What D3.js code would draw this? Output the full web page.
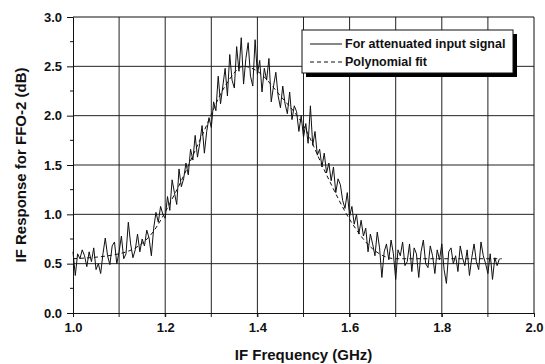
<!DOCTYPE html>
<html>
<head>
<meta charset="utf-8">
<script src="https://cdn.jsdelivr.net/npm/d3@7"></script>
<style>
  body { margin: 0; background: #fff; }
  svg { display: block; font-family: Arial, 'Liberation Sans', sans-serif; }
  .tickLabel { font-size: 13px; font-weight: bold; fill: #111; }
  .axisTitle { font-size: 15px; font-weight: bold; fill: #111; }
  .legendText { font-size: 12.5px; font-weight: bold; fill: #111; }
</style>
</head>
<body>
<svg width="545" height="364"></svg>
<script>
// measured sweep: 1.000 GHz upward, 5 MHz per sample
var freqStart = 1.0;
var freqStep = 0.005;

var response = [
  0.62, 0.38, 0.60, 0.55, 0.64, 0.58, 0.47, 0.62, 0.52, 0.66,
  0.44, 0.50, 0.40, 0.60, 0.76, 0.58, 0.49, 0.68, 0.72, 0.50,
  0.62, 0.78, 0.55, 0.60, 0.92, 0.70, 0.56, 0.64, 0.80, 0.62,
  0.75, 0.68, 0.84, 0.76, 0.58, 0.86, 1.02, 0.92, 1.08, 1.00,
  0.96, 1.18, 1.04, 1.35, 1.22, 1.10, 1.46, 1.28, 1.36, 1.52,
  1.40, 1.66, 1.55, 1.80, 1.58, 1.72, 1.90, 1.62, 1.84, 1.98,
  1.88, 2.14, 2.05, 2.40, 2.12, 2.30, 2.48, 2.20, 2.62, 2.36,
  2.28, 2.70, 2.45, 2.79, 2.32, 2.58, 2.74, 2.40, 2.30, 2.77,
  2.42, 2.56, 2.24, 2.48, 2.36, 2.58, 2.14, 2.30, 2.44, 2.20,
  2.08, 2.30, 2.12, 2.02, 2.24, 1.96, 2.10, 2.04, 1.84, 2.00,
  1.78, 1.92, 1.72, 2.10, 1.70, 1.84, 1.60, 1.66, 1.48, 1.62,
  1.42, 1.52, 1.34, 1.48, 1.22, 1.36, 1.30, 1.14, 1.06, 1.22,
  0.98, 1.08, 0.90, 1.00, 0.80, 0.94, 0.78, 0.86, 0.62, 0.80,
  0.70, 0.58, 0.82, 0.66, 0.36, 0.62, 0.70, 0.54, 0.74, 0.60,
  0.34, 0.64, 0.58, 0.72, 0.48, 0.52, 0.70, 0.42, 0.66, 0.60,
  0.36, 0.62, 0.74, 0.50, 0.46, 0.68, 0.58, 0.40, 0.64, 0.54,
  0.70, 0.44, 0.30, 0.62, 0.66, 0.50, 0.58, 0.42, 0.68, 0.56,
  0.48, 0.64, 0.38, 0.56, 0.70, 0.52, 0.44, 0.72, 0.58, 0.50,
  0.40, 0.60, 0.34, 0.56, 0.48, 0.55
];

// polynomial fit, read at a few frequencies
var fitFreq = [1.0, 1.1, 1.17, 1.22, 1.28, 1.33, 1.37, 1.4, 1.45, 1.5, 1.55, 1.6, 1.65, 1.7, 1.8, 1.93];
var fitValue = [0.55, 0.6, 0.8, 1.2, 1.8, 2.3, 2.5, 2.45, 2.2, 1.9, 1.4, 0.95, 0.65, 0.55, 0.55, 0.55];

var xTicks = [1.0, 1.2, 1.4, 1.6, 1.8, 2.0];
var xGrid = [1.1, 1.2, 1.3, 1.4, 1.5, 1.6, 1.7, 1.8, 1.9];
var yTicks = [0.0, 0.5, 1.0, 1.5, 2.0, 2.5, 3.0];
var yMinor = [0.25, 0.75, 1.25, 1.75, 2.25, 2.75];
var legendLabels = ['For attenuated input signal', 'Polynomial fit'];

var borders = { top: 17, right: 11, bottom: 51, left: 73 };
var width = 545, height = 364;

var svg = d3.select('svg');

var xScale = d3.scaleLinear().domain([1.0, 2.0]).range([borders.left, width - borders.right]);
var yScale = d3.scaleLinear().domain([0, 3]).range([height - borders.bottom, borders.top]);

var plotBottom = height - borders.bottom;

// grid
svg.append('g').selectAll('line.vgrid')
  .data(xGrid).enter().append('line')
  .attr('x1', function(d) { return xScale(d); })
  .attr('x2', function(d) { return xScale(d); })
  .attr('y1', borders.top)
  .attr('y2', plotBottom + 4)
  .attr('stroke', '#222').attr('stroke-width', 1);

svg.append('g').selectAll('line.hgrid')
  .data(yTicks.slice(1, -1)).enter().append('line')
  .attr('x1', borders.left)
  .attr('x2', width - borders.right)
  .attr('y1', function(d) { return yScale(d); })
  .attr('y2', function(d) { return yScale(d); })
  .attr('stroke', '#222').attr('stroke-width', 1);

// axes
svg.append('g')
  .attr('transform', 'translate(0,' + plotBottom + ')')
  .call(d3.axisBottom(xScale).tickValues(xTicks).tickSize(4).tickPadding(6).tickFormat(d3.format('.1f')))
  .call(function(g) {
    g.select('.domain').attr('stroke', '#111');
    g.selectAll('.tick line').attr('stroke', '#111');
    g.selectAll('.tick text').attr('class', 'tickLabel').attr('font-family', null).attr('font-size', null);
  });

svg.append('g')
  .attr('transform', 'translate(' + borders.left + ',0)')
  .call(d3.axisLeft(yScale).tickValues(yTicks).tickSize(6).tickPadding(5).tickFormat(d3.format('.1f')))
  .call(function(g) {
    g.select('.domain').attr('stroke', '#111');
    g.selectAll('.tick line').attr('stroke', '#111');
    g.selectAll('.tick text').attr('class', 'tickLabel').attr('font-family', null).attr('font-size', null);
  });

svg.append('g').selectAll('line')
  .data(yMinor).enter().append('line')
  .attr('x1', borders.left - 3).attr('x2', borders.left)
  .attr('y1', function(d) { return yScale(d); })
  .attr('y2', function(d) { return yScale(d); })
  .attr('stroke', '#111');

// frame top / right
svg.append('path')
  .attr('d', 'M' + borders.left + ',' + borders.top + 'H' + (width - borders.right) + 'V' + plotBottom)
  .attr('fill', 'none').attr('stroke', '#111');

// data
var line = d3.line()
  .x(function(d, i) { return xScale(freqStart + i * freqStep); })
  .y(function(d) { return yScale(d); });

svg.append('path')
  .datum(response)
  .attr('d', line)
  .attr('fill', 'none')
  .attr('stroke', '#111')
  .attr('stroke-width', 1);

var fitLine = d3.line()
  .x(function(d, i) { return xScale(fitFreq[i]); })
  .y(function(d) { return yScale(d); })
  .curve(d3.curveMonotoneX);

svg.append('path')
  .datum(fitValue)
  .attr('d', fitLine)
  .attr('fill', 'none')
  .attr('stroke', '#111')
  .attr('stroke-width', 1)
  .attr('stroke-dasharray', '4,3');

// legend
var legend = svg.append('g').attr('transform', 'translate(302,30)');
legend.append('rect').attr('x', 4).attr('y', 4).attr('width', 211).attr('height', 43).attr('fill', '#000');
legend.append('rect').attr('x', 0).attr('y', 0).attr('width', 211).attr('height', 43)
  .attr('fill', '#fff').attr('stroke', '#111').attr('stroke-width', 1);

legend.selectAll('line')
  .data(legendLabels).enter().append('line')
  .attr('x1', 8).attr('x2', 40)
  .attr('y1', function(d, i) { return 14 + i * 18; })
  .attr('y2', function(d, i) { return 14 + i * 18; })
  .attr('stroke', '#111')
  .attr('stroke-dasharray', function(d, i) { return i ? '4,3' : null; });

legend.selectAll('text')
  .data(legendLabels).enter().append('text')
  .attr('class', 'legendText')
  .attr('x', 43)
  .attr('y', function(d, i) { return 18 + i * 18; })
  .text(function(d) { return d; });

// axis titles
svg.append('text')
  .attr('class', 'axisTitle')
  .attr('text-anchor', 'middle')
  .attr('x', (borders.left + width - borders.right) / 2)
  .attr('y', 360)
  .text('IF Frequency (GHz)');

svg.append('text')
  .attr('class', 'axisTitle')
  .attr('text-anchor', 'middle')
  .attr('transform', 'translate(26,' + ((borders.top + plotBottom) / 2) + ')rotate(-90)')
  .text('IF Response for FFO-2 (dB)');
</script>
</body>
</html>
